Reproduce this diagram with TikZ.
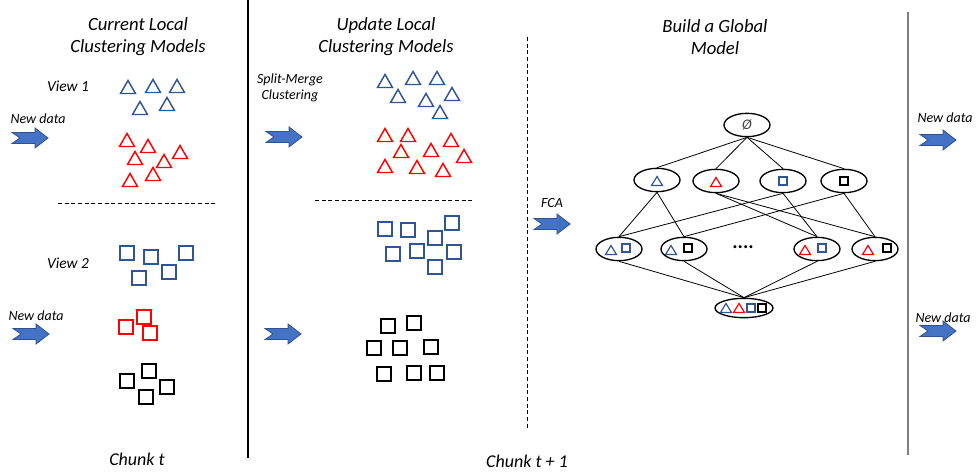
\documentclass[tikz,border=0pt]{standalone}
\usepackage{fontspec}
\setmainfont{Carlito}
\usetikzlibrary{shapes.geometric}
\definecolor{vblue}{HTML}{2F5597}
\definecolor{afill}{HTML}{4472C4}
\definecolor{aline}{HTML}{2F528F}
\definecolor{vred}{HTML}{FF0000}
\definecolor{vgray}{HTML}{7F7F7F}
\tikzset{
  pics/tri/.style={code={\draw[#1,line width=1.1pt,line join=miter] (-7.5,6.5) -- (7.5,6.5) -- (0,-6.5) -- cycle;}},
  pics/sq/.style={code={\draw[#1,line width=1.1pt] (-7,-7) rectangle (7,7);}},
  pics/stri/.style={code={\draw[#1,line width=0.9pt,line join=miter] (-5.5,4.5) -- (5.5,4.5) -- (0,-4.5) -- cycle;}},
  pics/ssq/.style={code={\draw[#1,line width=0.9pt] (-4,-4) rectangle (4,4);}},
  pics/bigarrow/.style={code={\draw[fill=afill,draw=aline,line width=0.6pt,line join=miter] (-18,-5.5) -- (5,-5.5) -- (5,-10) -- (18,0) -- (5,10) -- (5,5.5) -- (-18,5.5) -- (-10,0) -- cycle;}},
  title/.style={font=\fontsize{14}{16.5}\selectfont\itshape,align=center},
  chunk/.style={font=\fontsize{13.5}{16.5}\selectfont\itshape},
  lbl/.style={font=\fontsize{11.5}{14}\selectfont\itshape},
  small/.style={font=\fontsize{10.5}{12.5}\selectfont\itshape,align=center},
  lat/.style={ellipse,draw,line width=1pt,minimum width=34.5pt,minimum height=17.5pt,inner sep=0pt},
  edge/.style={line width=0.6pt},
  dashline/.style={dash pattern=on 3pt off 2pt,line width=0.6pt},
}
\begin{document}
\begin{tikzpicture}[x=0.75pt,y=-0.75pt]
\useasboundingbox (0,0) rectangle (980,473);
% separators
\draw[line width=0.8pt] (248,0) -- (248,458);
\draw[vgray,line width=1.5pt] (908,12) -- (908,455);
\draw[dashline] (527,37) -- (527,428);
\draw[dashline] (58,203) -- (217,203);
\draw[dashline] (315,200) -- (474,200);
% titles
\node[title] (t1) at (138,37) {Current Local\\Clustering Models};
\node[title] (t2) at (386,37) {Update Local\\Clustering Models};
\node[title] (t3) at (715,37) {Build a Global\\Model};
\node[chunk] (c1) at (137,459) {Chunk t};
\node[chunk] (c2) at (527,461) {Chunk t + 1};
\node[lbl] (v1) at (68,86) {View 1};
\node[lbl] (v2) at (68,263) {View 2};
\node[small] (nd1) at (38,119) {New data};
\node[small] (nd2) at (36,316) {New data};
\node[small] (nd3) at (945,118) {New data};
\node[small] (nd4) at (943,318) {New data};
\node[small] (sm) at (290,88) {Split-Merge\\Clustering};
\node[small] (fca) at (552,203) {FCA};
% arrows
\pic at (30,138) {bigarrow};
\pic at (31,334) {bigarrow};
\pic at (284,137) {bigarrow};
\pic at (283,334) {bigarrow};
\pic at (552,224) {bigarrow};
\pic at (938,140) {bigarrow};
\pic at (938,331) {bigarrow};
% chunk t, view 1
\foreach \p in {(128,87),(153,86),(177,86),(140,108),(167,104)} \pic at \p {tri=vblue};
\foreach \p in {(127,140),(148,146),(135,158),(164,161),(180,152),(130,180),(153,174)} \pic at \p {tri=vred};
% chunk t, view 2
\foreach \p in {(127,253),(151,257),(186,253),(139,278),(169,272)} \pic at \p {sq=vblue};
\foreach \p in {(126,327),(144,317),(150,333)} \pic at \p {sq=vred};
\foreach \p in {(127,381),(149,371),(167,387),(146,397)} \pic at \p {sq=black};
% chunk t+1
\foreach \p in {(385,81),(413,78),(437,78),(398,96),(426,100),(452,94),(440,112)} \pic at \p {tri=vblue};
\foreach \p in {(385,135),(408,135),(451,140),(401,151),(431,150),(464,156),(385,166),(417,167),(443,170)} \pic at \p {tri=vred};
\foreach \p in {(385,229),(408,230),(435,238),(452,223),(393,254),(417,251),(454,252),(435,267)} \pic at \p {sq=vblue};
\foreach \p in {(388,326),(414,323),(374,348),(400,348),(431,347),(384,374),(414,373),(437,373)} \pic at \p {sq=black};
% lattice
\node[lat,text=darkgray,font=\fontsize{11}{12}\selectfont\itshape] (top) at (747,125) {Ø};
\node[lat] (n1) at (657,180) {};
\node[lat] (n2) at (716,181) {};
\node[lat] (n3) at (783,181) {};
\node[lat] (n4) at (844,181) {};
\node[lat] (r1) at (619,249) {};
\node[lat] (r2) at (684,249) {};
\node[lat] (r3) at (817,249) {};
\node[lat] (r4) at (875,249) {};
\node[lat,minimum width=43.5pt,minimum height=14.5pt] (bot) at (744,308) {};
\node[font=\fontsize{15}{16}\selectfont\bfseries] (dots) at (743,247) {....};
\foreach \n in {n1,n2,n3,n4} \draw[edge] (top.south) -- (\n.north);
\draw[edge] (n1.south) -- (r1.north);
\draw[edge] (n1.south) -- (r2.north);
\draw[edge] (n2.south) -- (r3.north);
\draw[edge] (n2.south) -- (r4.north);
\draw[edge] (n3.south) -- (r1.north);
\draw[edge] (n3.south) -- (r3.north);
\draw[edge] (n4.south) -- (r2.north);
\draw[edge] (n4.south) -- (r4.north);
\foreach \n in {r1,r2,r3,r4} \draw[edge] (\n.south) -- (bot.north);
% lattice symbols
\pic at (657,181) {stri=vblue};
\pic at (716,182) {stri=vred};
\pic at (783,181) {ssq=vblue};
\pic at (844,181) {ssq=black};
\pic at (611,250) {stri=vblue}; \pic at (626,248) {ssq=vblue};
\pic at (671,250) {stri=vblue}; \pic at (688,248) {ssq=black};
\pic at (805,250) {stri=vred};  \pic at (822,248) {ssq=vblue};
\pic at (868,250) {stri=vred};  \pic at (887,248) {ssq=black};
\pic at (726,308) {stri=vblue}; \pic at (739,308) {stri=vred};
\pic at (751,308) {ssq=vblue}; \pic at (762,308) {ssq=black};
\end{tikzpicture}
\end{document}
